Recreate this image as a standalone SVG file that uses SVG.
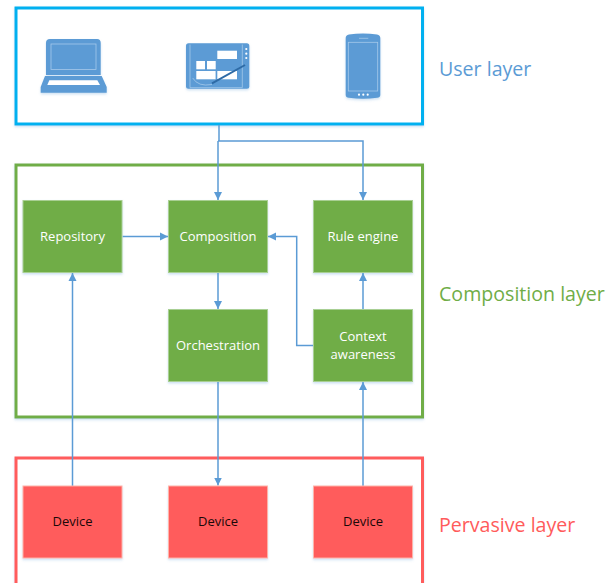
<svg xmlns="http://www.w3.org/2000/svg" width="616" height="583" viewBox="0 0 616 583">
<style>
text{font-family:"Open Sans","Noto Sans","Liberation Sans",sans-serif}
.frame{fill:#fff;stroke-width:3}
.node{stroke-width:1;filter:url(#sh)}
.g{fill:#70AD47;stroke:#A9CF93}
.r{fill:#FF5B5B;stroke:#FFB3A8}
.lbl{font-size:13px;text-anchor:middle}
.w{fill:#fff}
.k{fill:#1a0808}
.layer{font-size:19.6px}
.c{fill:none;stroke:#5B9BD5;stroke-width:1.5}
.ico{fill:#5B9BD5}
.thin{fill:none;stroke:#A6C9EA;stroke-width:.8}
.wf{fill:#fff}
</style>
<defs>
<filter id="sh" x="-10%" y="-10%" width="120%" height="125%"><feDropShadow dx="0" dy="1.5" stdDeviation="1.2" flood-color="#5B9BD5" flood-opacity=".3"/></filter>
<marker id="a" markerUnits="userSpaceOnUse" markerWidth="9" markerHeight="9" refX="8" refY="4.5" orient="auto"><path d="M0 .5L8 4.5L0 8.5Z" fill="#5B9BD5"/></marker>
</defs>
<rect id="user-layer" class="frame" x="16" y="8" width="406.5" height="116" stroke="#00B0F0" filter="url(#sh)"/>
<rect id="composition-layer" class="frame" x="16" y="165" width="406.5" height="252" stroke="#70AD47" filter="url(#sh)"/>
<rect id="pervasive-layer" class="frame" x="16" y="458" width="406.5" height="140" stroke="#FF5B5B" filter="url(#sh)"/>
<g id="laptop" filter="url(#sh)">
<path class="ico" d="M50 39H97Q100.700 39 100.700 43V75H46V43Q46 39 50 39Z"/>
<rect class="thin" x="51" y="44" width="45" height="25.500"/>
<path class="ico" d="M45 76H101.700L106.700 87V92.700H40.700V87Z"/>
<path class="wf" d="M49.300 80.300H97.300L100 85H47.300Z"/>
</g>
<g id="tablet" filter="url(#sh)">
<rect class="ico" x="186" y="43.300" width="63.300" height="45.400" rx="2.500"/>
<path class="thin" d="M190 44.500V87.700M190 87.700H242.300V44.500"/>
<rect class="wf" x="217.300" y="50.700" width="19.700" height="8.300"/>
<rect class="wf" x="196.300" y="61" width="8.700" height="8.300"/>
<rect class="wf" x="207" y="61" width="8.700" height="8.300"/>
<rect class="wf" x="196.300" y="71" width="19.300" height="8.300"/>
<rect class="wf" x="217.300" y="71" width="19.700" height="8.300"/>
<circle class="wf" cx="246.300" cy="49" r="1.100"/><circle class="wf" cx="246.300" cy="53.700" r="1.100"/><circle class="wf" cx="246.300" cy="58" r="1.100"/>
<path class="thin" d="M192.700 78Q198 87 212 84.500"/>
<path d="M212 83.300L245 65" stroke="#2E6BA6" stroke-width="2" fill="none"/>
</g>
<g id="phone" filter="url(#sh)">
<path class="ico" d="M349 34.500Q363 32.300 377 34.500Q380.300 35 380.300 38V95Q380.300 97.500 377 97.800Q363 99.500 349 97.800Q345.700 97.500 345.700 95V38Q345.700 35 349 34.500Z"/>
<rect class="thin" x="348.300" y="42.300" width="29.400" height="48.700"/>
<path class="thin" d="M359 38.300H368.300"/>
<circle class="wf" cx="359" cy="94.700" r="1.100"/><circle class="wf" cx="363.300" cy="94.700" r="1.100"/><circle class="wf" cx="367.700" cy="94.700" r="1.100"/>
</g>
<g id="connectors">
<path class="c" d="M219 125V141"/>
<path class="c" d="M218 141V200" marker-end="url(#a)"/>
<path class="c" d="M218 141H363V200" marker-end="url(#a)"/>
<path class="c" d="M122.500 236.500H168" marker-end="url(#a)"/>
<path class="c" d="M72.500 486V273" marker-end="url(#a)"/>
<path class="c" d="M218 273V309" marker-end="url(#a)"/>
<path class="c" d="M218 381.500V485.500" marker-end="url(#a)"/>
<path class="c" d="M363 486V382" marker-end="url(#a)"/>
<path class="c" d="M363 309V273" marker-end="url(#a)"/>
<path class="c" d="M313 345.500H296.700V236.500H268" marker-end="url(#a)"/>
</g>
<g id="repository"><rect class="node g" x="23" y="200.500" width="99" height="72"/><text class="lbl w" x="72.500" y="241">Repository</text></g>
<g id="composition"><rect class="node g" x="168.500" y="200.500" width="99" height="72"/><text class="lbl w" x="218" y="241">Composition</text></g>
<g id="rule-engine"><rect class="node g" x="313.500" y="200.500" width="99" height="72"/><text class="lbl w" x="363" y="241">Rule engine</text></g>
<g id="orchestration"><rect class="node g" x="168.500" y="309.500" width="99" height="72"/><text class="lbl w" x="218" y="350">Orchestration</text></g>
<g id="context-awareness"><rect class="node g" x="313.500" y="309.500" width="99" height="72"/><text class="lbl w" x="363" y="341">Context</text><text class="lbl w" x="363" y="359">awareness</text></g>
<g id="device-1"><rect class="node r" x="23" y="486" width="99" height="72"/><text class="lbl k" x="72.500" y="526">Device</text></g>
<g id="device-2"><rect class="node r" x="168.500" y="486" width="99" height="72"/><text class="lbl k" x="218" y="526">Device</text></g>
<g id="device-3"><rect class="node r" x="313.500" y="486" width="99" height="72"/><text class="lbl k" x="363" y="526">Device</text></g>
<text class="layer" x="439" y="75.500" fill="#5B9BD5">User layer</text>
<text class="layer" x="439" y="300.500" fill="#70AD47">Composition layer</text>
<text class="layer" x="439" y="531.500" fill="#FF5B5B">Pervasive layer</text>
</svg>
